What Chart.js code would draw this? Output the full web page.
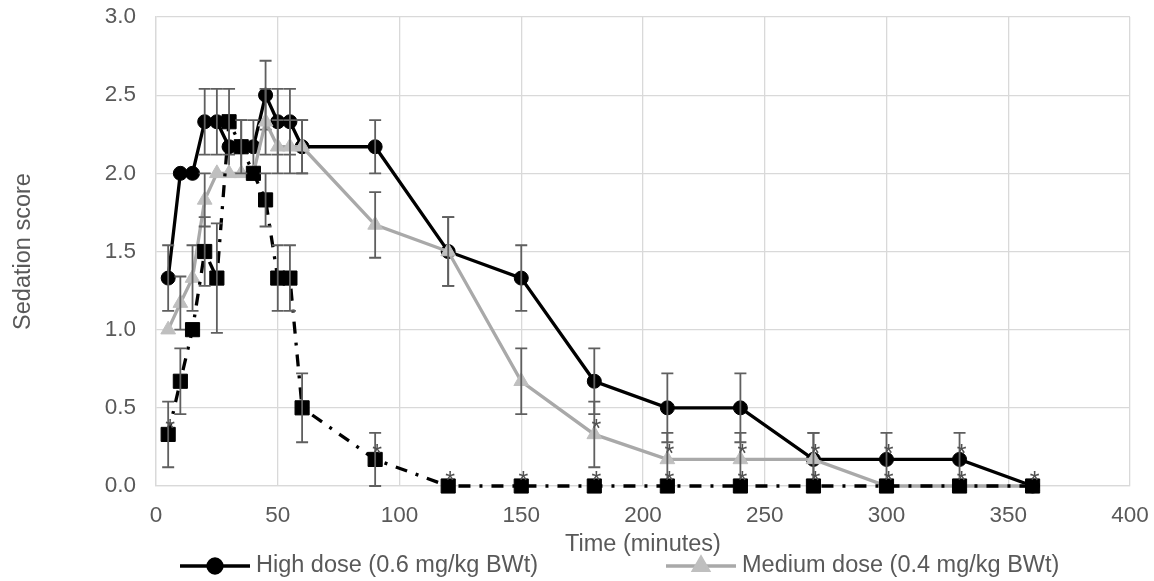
<!DOCTYPE html>
<html>
<head>
<meta charset="utf-8">
<title>Sedation score</title>
<script src="https://cdn.jsdelivr.net/npm/chart.js@4/dist/chart.umd.min.js"></script>
<style>
  html, body { margin: 0; padding: 0; background: #fff; }
  canvas { display: block; }
</style>
</head>
<body>
<canvas id="chart" width="1154" height="581"></canvas>
<script>
// sampling times (minutes)
const times = [5, 10, 15, 20, 25, 30, 35, 40, 45, 50, 55, 60, 90, 120, 150, 180, 210, 240, 270, 300, 330, 360];

// mean sedation score and SEM per dose group
const highDose = [1.33, 2.0, 2.0, 2.33, 2.33, 2.17, 2.17, 2.17, 2.5, 2.33, 2.33, 2.17, 2.17, 1.5, 1.33, 0.67, 0.5, 0.5, 0.17, 0.17, 0.17, 0];
const highErr = [0.21, 0, 0, 0.21, 0.21, 0.17, 0.17, 0.17, 0.22, 0.21, 0.21, 0.17, 0.17, 0.22, 0.21, 0.21, 0.22, 0.22, 0.17, 0.17, 0.17, 0];

const mediumDose = [1.0, 1.17, 1.33, 1.83, 2.0, 2.0, 2.0, 2.0, 2.33, 2.17, 2.17, 2.17, 1.67, 1.5, 0.67, 0.33, 0.17, 0.17, 0.17, 0, 0, 0];
const mediumErr = [0, 0.17, 0.21, 0.17, 0, 0, 0, 0, 0.21, 0.17, 0.17, 0.17, 0.21, 0.22, 0.21, 0.21, 0.17, 0.17, 0.17, 0, 0, 0];

const lowDose = [0.33, 0.67, 1.0, 1.5, 1.33, 2.33, 2.17, 2.0, 1.83, 1.33, 1.33, 0.5, 0.17, 0, 0, 0, 0, 0, 0, 0, 0, 0];
const lowErr = [0.21, 0.21, 0, 0.22, 0.35, 0.21, 0.17, 0, 0.17, 0.21, 0.21, 0.22, 0.17, 0, 0, 0, 0, 0, 0, 0, 0, 0];

// times marked with an asterisk for each group
const highStars = [300, 330];
const mediumStars = [180, 210, 240, 270];
const lowStars = [5, 90, 120, 150, 180, 210, 240, 270, 300, 330, 360];

const seriesNames = ['High dose (0.6 mg/kg BWt)', 'Medium dose (0.4 mg/kg BWt)', 'Low dose (0.2 mg/kg BWt)'];

const FONT = '"Liberation Sans", Arial, sans-serif';
const TEXT = '#595959';
const GRID = '#d9d9d9';

const toPoints = (vals) => times.map((t, i) => ({ x: t, y: vals[i] }));

// vertical error bars with caps, drawn right after each dataset
const errorBars = {
  id: 'errorBars',
  afterDatasetDraw(chart, args) {
    const ds = chart.data.datasets[args.index];
    if (!ds.errors) return;
    const yScale = chart.scales.y;
    const ctx = chart.ctx;
    ctx.save();
    ctx.strokeStyle = '#5f5f5f';
    ctx.lineWidth = 1.8;
    ctx.setLineDash([]);
    args.meta.data.forEach((pt, i) => {
      const e = ds.errors[i];
      if (!e) return;
      const v = ds.data[i].y;
      const top = yScale.getPixelForValue(v + e);
      const bot = yScale.getPixelForValue(Math.max(0, v - e));
      ctx.beginPath();
      ctx.moveTo(pt.x, top);
      ctx.lineTo(pt.x, bot);
      ctx.moveTo(pt.x - 6, top);
      ctx.lineTo(pt.x + 6, top);
      ctx.moveTo(pt.x - 6, bot);
      ctx.lineTo(pt.x + 6, bot);
      ctx.stroke();
    });
    ctx.restore();
  }
};

// asterisk labels above flagged points
const starLabels = {
  id: 'starLabels',
  afterDatasetsDraw(chart) {
    const ctx = chart.ctx;
    ctx.save();
    ctx.font = '25px ' + FONT;
    ctx.fillStyle = '#505050';
    ctx.textAlign = 'center';
    ctx.textBaseline = 'alphabetic';
    chart.data.datasets.forEach((ds, di) => {
      const meta = chart.getDatasetMeta(di);
      (ds.stars || []).forEach(t => {
        const pt = meta.data[times.indexOf(t)];
        ctx.fillText('*', pt.x + 2, pt.y + 3);
      });
    });
    ctx.restore();
  }
};

// legend row: line sample with marker, then label
const lineLegend = {
  id: 'lineLegend',
  afterDraw(chart) {
    const ctx = chart.ctx;
    const starts = [180, 666];
    const y = 566;
    ctx.save();
    starts.forEach((x0, i) => {
      const ds = chart.data.datasets[i];
      ctx.strokeStyle = ds.borderColor;
      ctx.lineWidth = ds.borderWidth;
      ctx.setLineDash(ds.borderDash || []);
      ctx.beginPath();
      ctx.moveTo(x0, y);
      ctx.lineTo(x0 + 70, y);
      ctx.stroke();
      ctx.setLineDash([]);
      ctx.fillStyle = ds.pointBackgroundColor;
      ctx.strokeStyle = ds.pointBorderColor;
      Chart.helpers.drawPoint(ctx, {
        pointStyle: ds.pointStyle,
        radius: ds.pointRadius,
        borderWidth: ds.pointBorderWidth,
        rotation: 0
      }, x0 + 35, y);
      ctx.font = '23.5px ' + FONT;
      ctx.fillStyle = TEXT;
      ctx.textAlign = 'left';
      ctx.textBaseline = 'middle';
      ctx.fillText(ds.label, x0 + 76, y);
    });
    ctx.restore();
  }
};

new Chart(document.getElementById('chart'), {
  type: 'scatter',
  data: {
    datasets: [
      {
        label: seriesNames[0],
        data: toPoints(highDose),
        errors: highErr,
        stars: highStars,
        showLine: true,
        borderColor: '#000000',
        borderWidth: 3.3,
        pointStyle: 'circle',
        pointRadius: 7,
        pointBorderWidth: 1,
        pointBackgroundColor: '#000000',
        pointBorderColor: '#000000',
        order: 3,
        clip: false
      },
      {
        label: seriesNames[1],
        data: toPoints(mediumDose),
        errors: mediumErr,
        stars: mediumStars,
        showLine: true,
        borderColor: '#a9a9a9',
        borderWidth: 3.3,
        pointStyle: 'triangle',
        pointRadius: 8.5,
        pointBorderWidth: 1,
        pointBackgroundColor: '#bfbfbf',
        pointBorderColor: '#bfbfbf',
        order: 2,
        clip: false
      },
      {
        label: seriesNames[2],
        data: toPoints(lowDose),
        errors: lowErr,
        stars: lowStars,
        showLine: true,
        borderColor: '#000000',
        borderWidth: 3.3,
        borderDash: [12, 9, 3, 9],
        pointStyle: 'rect',
        pointRadius: 10,
        pointBorderWidth: 1,
        pointBackgroundColor: '#000000',
        pointBorderColor: '#000000',
        order: 1,
        clip: false
      }
    ]
  },
  options: {
    responsive: false,
    animation: false,
    layout: { padding: { left: 0, right: 24, top: 17, bottom: 22 } },
    plugins: {
      legend: { display: false },
      tooltip: { enabled: false }
    },
    scales: {
      x: {
        type: 'linear',
        min: 0,
        max: 400,
        ticks: { stepSize: 50, padding: 16, color: TEXT, font: { family: FONT, size: 22.5 } },
        grid: { color: GRID, lineWidth: 1.3, drawTicks: false },
        border: { color: GRID, width: 1.3 },
        title: { display: true, text: 'Time (minutes)', color: TEXT, font: { family: FONT, size: 23.5 }, padding: { top: 0, bottom: 0 } },
        afterFit(scale) {
          scale.height = 73;
          scale.paddingLeft = 0;
          scale.paddingRight = 0;
        }
      },
      y: {
        min: 0,
        max: 3,
        ticks: { stepSize: 0.5, padding: 20, color: TEXT, font: { family: FONT, size: 22.5 }, callback: v => v.toFixed(1) },
        grid: { color: GRID, lineWidth: 1.3, drawTicks: false },
        border: { color: GRID, width: 1.3 },
        title: { display: true, text: 'Sedation score', color: TEXT, font: { family: FONT, size: 23.5 }, padding: { top: 9, bottom: 0 } },
        afterFit(scale) {
          scale.width = 156;
          scale.paddingTop = 0;
          scale.paddingBottom = 0;
        }
      }
    }
  },
  plugins: [errorBars, starLabels, lineLegend]
});
</script>
</body>
</html>
